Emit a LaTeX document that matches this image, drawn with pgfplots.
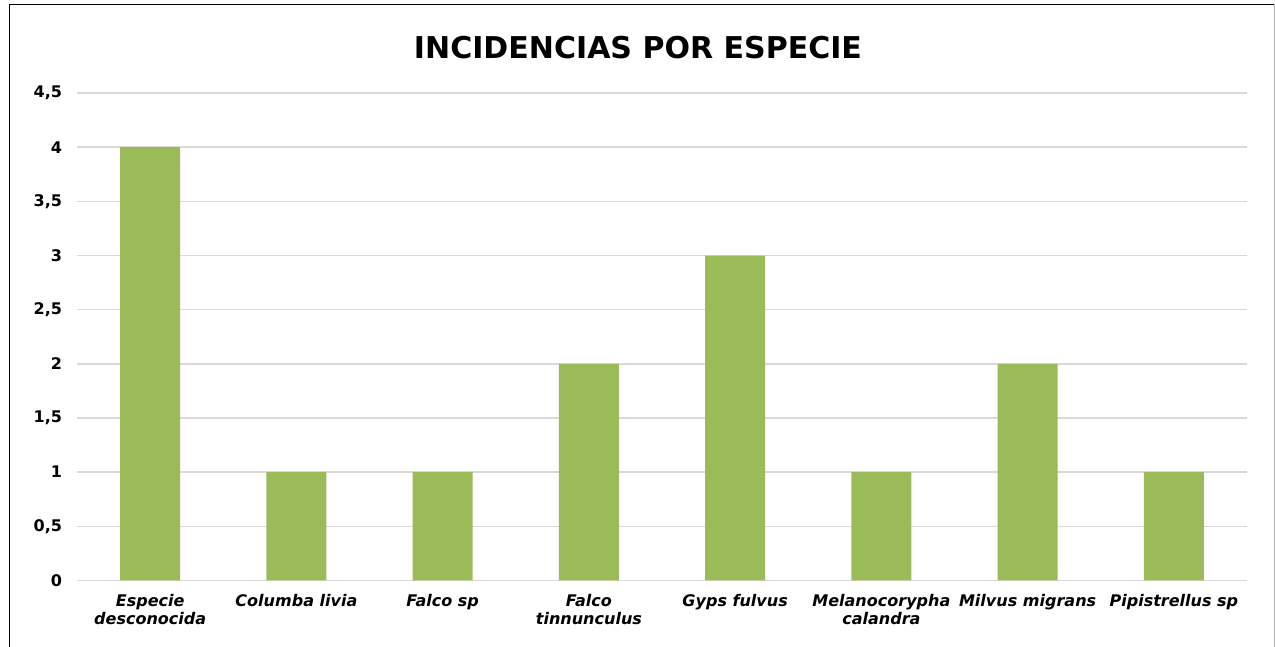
\documentclass[border=0pt]{standalone}
\usepackage{pgfplots}
\pgfplotsset{compat=1.18}
\usepackage{fontspec}
\setmainfont{DejaVu Sans}
\definecolor{bargreen}{HTML}{9BBB59}
\definecolor{gridgray}{HTML}{D9D9D9}
\begin{document}
\begin{tikzpicture}[x=1pt,y=1pt]
\useasboundingbox (-38.5,-33) rectangle (598.5,290);
\begin{axis}[
  at={(0,0)}, anchor=south west,
  scale only axis,
  width=584.5pt, height=243.5pt,
  xmin=-0.5, xmax=7.5, ymin=0, ymax=4.5,
  ybar, bar width=0.41,
  xtick=data,
  xticklabels={{Especie\\desconocida},{Columba livia},{Falco sp},{Falco\\tinnunculus},{Gyps fulvus},{Melanocorypha\\calandra},{Milvus migrans},{Pipistrellus sp}},
  xticklabel style={align=center, font=\bfseries\itshape\fontsize{8}{9}\selectfont, yshift=-3.5pt},
  ytick={0,0.5,...,4.5},
  yticklabel style={font=\bfseries\fontsize{8}{9}\selectfont, xshift=-4pt},
  /pgf/number format/use comma,
  /pgf/number format/assume math mode=true,
  major tick length=0pt,
  ymajorgrids, grid style={gridgray, line width=0.75pt},
  axis lines*=left,
  y axis line style={draw=none},
  x axis line style={gridgray, line width=0.75pt, -},
  clip=false,
]
\addplot[fill=bargreen, draw=none] coordinates {(0,4) (1,1) (2,1) (3,2) (4,3) (5,1) (6,2) (7,1)};
\end{axis}
\node[anchor=base, font=\bfseries\fontsize{15}{18}\selectfont] at (280.25,261) {INCIDENCIAS POR ESPECIE};
\draw[black, line width=0.6pt] (-33.75,-40) -- (-33.75,287.75) -- (598.25,287.75);
\draw[gray!60, line width=0.5pt] (598.25,287.75) -- (598.25,-40);
\end{tikzpicture}
\end{document}
